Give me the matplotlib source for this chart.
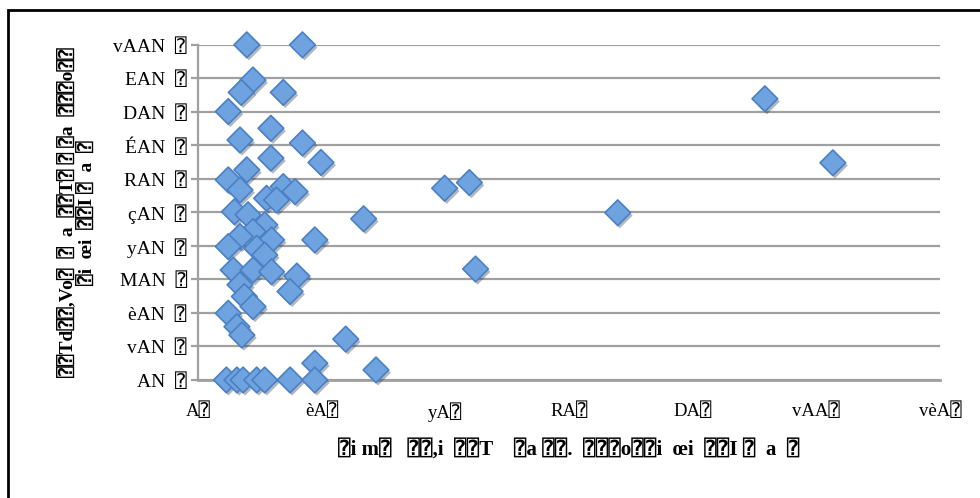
import matplotlib.pyplot as plt
import matplotlib.patheffects as pe
from matplotlib.patches import Rectangle

# values
xs = [7.9, 16.9, 8.9, 7.0, 13.8, 4.9, 11.8, 6.8, 16.9, 11.8, 19.9, 7.9, 4.9,
      6.8, 11.1, 13.8, 15.7, 12.7, 5.9, 8.1, 10.8, 8.9, 6.8, 11.9, 18.9, 4.9,
      9.5, 10.8, 5.7, 8.9, 11.9, 16.0, 6.8, 14.9, 7.5, 8.9, 4.9, 6.3, 7.1,
      18.9, 4.6, 6.3, 7.3, 9.5, 10.8, 14.9, 18.9,
      39.9, 43.9, 26.8, 44.9, 23.9, 28.8, 67.9, 91.7, 102.7]
ys = [100, 100, 89.5, 85.8, 85.8, 80.1, 75.1, 71.6, 70.7, 66.2, 64.9, 62.7, 59.7,
      56.7, 54.2, 57.7, 56.2, 53.7, 50.2, 49.3, 46.3, 44.3, 42.8, 41.8, 41.8, 39.8,
      39.3, 37.3, 32.8, 32.8, 32.3, 31.0, 28.4, 26.4, 24.9, 21.9, 19.9, 15.9, 13.4,
      5.0, 0, 0, 0, 0, 0, 0, 0,
      57.2, 58.9, 48.1, 33.1, 12.2, 3.0, 49.9, 83.9, 64.8]

Q = "\u2370"
xticks = [0, 20, 40, 60, 80, 100, 120]
xtick_labels = ["A" + Q, "èA" + Q, "yA" + Q, "RA" + Q, "DA" + Q, "vAA" + Q, "vèA" + Q]
yticks = [0, 10, 20, 30, 40, 50, 60, 70, 80, 90, 100]
ytick_labels = [s + "  " + Q for s in ["AN", "vAN", "èAN", "MAN", "yAN", "çAN",
                                       "RAN", "ÉAN", "DAN", "EAN", "vAAN"]]
xlabel = Q + "i m" + Q + "   " + Q + Q + ",i  " + Q + Q + "T    " + Q + "a " + Q + Q + ".  " + \
    Q + Q + Q + "o" + Q + Q + "i  œi  " + Q + Q + "I " + Q + "  a  " + Q
ylabel = Q + Q + "Td" + Q + Q + ",Vo" + Q + "  " + Q + "  a  " + Q + Q + "T" + Q + " " + Q + " " + \
    Q + "a  " + Q + Q + Q + "o" + Q + Q + "\n" + Q + "i  œi  " + Q + Q + "I " + Q + "  a  " + Q

plt.rcParams['font.family'] = ['Liberation Serif', 'DejaVu Sans', 'DejaVu Sans Mono']

fig = plt.figure(figsize=(9.8, 4.98), dpi=100)
ax = fig.add_axes([0.202, 0.237, 0.757, 0.673])

fig.patches.append(Rectangle((8 / 980, -0.1), 1.2, 1.1 - 10 / 498,
                             transform=fig.transFigure, fill=False,
                             edgecolor='black', linewidth=2))

ax.scatter(xs, ys, marker='D', s=170, facecolor='#6fa3e0', edgecolor='#4a80c4',
           linewidth=1.2, zorder=3, clip_on=False,
           path_effects=[pe.SimplePatchShadow(offset=(1.5, -2), alpha=0.35),
                         pe.Normal()])

ax.set_xlim(0, 120)
ax.set_ylim(0, 100)
ax.set_xticks(xticks)
ax.set_xticklabels(xtick_labels, fontsize=13.5)
ax.set_yticks(yticks)
ax.set_yticklabels(ytick_labels, fontsize=14)
ax.yaxis.grid(True, color='#a0a0a0', linewidth=1.6)
ax.set_axisbelow(True)
ax.tick_params(axis='x', length=0, pad=16)
ax.tick_params(axis='y', length=5, width=1.6, color='#a0a0a0', pad=3)
for side in ['top', 'right']:
    ax.spines[side].set_visible(False)
ax.spines['left'].set_color('#a0a0a0')
ax.spines['left'].set_linewidth(1.6)
ax.spines['bottom'].set_color('#a0a0a0')
ax.spines['bottom'].set_linewidth(2)

ax.set_xlabel(xlabel, fontsize=15, fontweight='bold', labelpad=12)
ax.set_ylabel(ylabel, fontsize=14, fontweight='bold', labelpad=12, linespacing=1.1)

fig.savefig('out.png', dpi=100)
